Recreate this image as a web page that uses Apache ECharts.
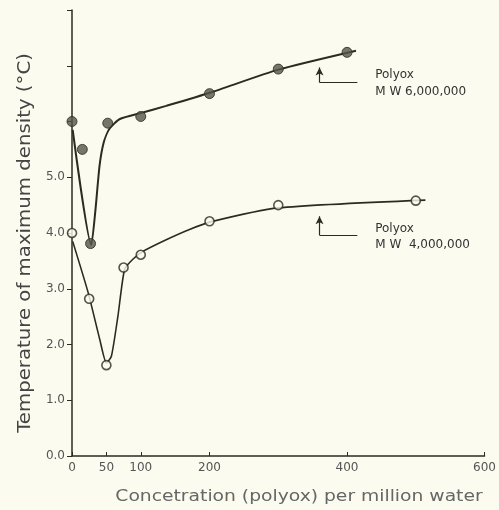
<!DOCTYPE html>
<html><head><meta charset="utf-8">
<script src="https://cdn.jsdelivr.net/npm/echarts@6/dist/echarts.min.js"></script>
<style>html,body{margin:0;padding:0;background:#fbfbef;}#c{width:499px;height:510px;}</style>
</head><body><div id="c"></div>
<script>
// Measured points
const mw6Points = [[0,6.0],[15,5.5],[27,3.81],[52,5.97],[100,6.09],[200,6.5],[300,6.94],[400,7.24]];
const mw4Points = [[0,4.0],[25,2.82],[50,1.63],[75,3.38],[100,3.61],[200,4.21],[300,4.5],[500,4.58]];
// Fitted curves
const mw6Curve = [[1,5.85],[28,3.79],[34,4.4],[40,5.2],[46,5.62],[54,5.86],[69,6.04],[103,6.16],[137,6.28],[201.6,6.52],[300,6.93],[413,7.27]];
const mw4Curve = [[1,3.85],[23.5,2.93],[40.4,2.09],[50,1.67],[57.3,1.79],[66.8,2.51],[76.5,3.35],[88.5,3.53],[103,3.67],[137,3.88],[170,4.06],[201.6,4.2],[300,4.45],[514,4.59]];
const xTicks = [0,50,100,200,400,600];
const yLabels = [0,1,2,3,4,5];
const yTicks = [0,1,2,3,4,5,6,7,8];
const ink = '#2b2b22';
const chart = echarts.init(document.getElementById('c'));
chart.setOption({
  backgroundColor:'#fbfbef',
  animation:false,
  grid:{left:72,right:11,top:10,bottom:54},
  xAxis:{type:'value',min:0,max:600,
    axisLine:{lineStyle:{color:ink,width:1.5}},
    axisTick:{inside:true,length:4,customValues:xTicks,lineStyle:{color:ink}},
    axisLabel:{customValues:xTicks,color:'#555',fontSize:12,fontFamily:'DejaVu Sans',margin:6},
    splitLine:{show:false}},
  yAxis:{type:'value',min:0,max:8,
    axisLine:{show:true,lineStyle:{color:ink,width:1.5}},
    axisTick:{show:true,length:5,customValues:yTicks,lineStyle:{color:ink}},
    axisLabel:{customValues:yLabels,color:'#555',fontSize:12,fontFamily:'DejaVu Sans',margin:7,formatter:v=>v.toFixed(1)},
    splitLine:{show:false}},
  series:[
    {type:'line',data:mw6Curve,smooth:0.2,symbol:'none',lineStyle:{color:ink,width:2},z:2},
    {type:'line',data:mw4Curve,smooth:0.2,symbol:'none',lineStyle:{color:ink,width:1.6},z:2},
    {type:'scatter',data:mw6Points,symbolSize:10,itemStyle:{color:'#55554b',borderColor:'#2b2b22',borderWidth:1},z:3},
    {type:'scatter',data:mw4Points,symbolSize:9,itemStyle:{color:'#fbfbef',borderColor:'#2b2b22',borderWidth:1.6},z:3},
    {type:'line',data:[],markLine:{silent:true,animation:false,label:{show:false},
      lineStyle:{color:ink,width:1.2,type:'solid'},symbolSize:[6,8],
      data:[
        [{coord:[360,6.70],symbol:'none'},{coord:[360,6.97],symbol:'arrow'}],
        [{coord:[360,6.70],symbol:'none'},{coord:[415,6.70],symbol:'none'}],
        [{coord:[360,3.96],symbol:'none'},{coord:[360,4.30],symbol:'arrow'}],
        [{coord:[360,3.96],symbol:'none'},{coord:[415,3.96],symbol:'none'}]
      ]}}
  ]
});
function place(){
  const p = (x,y)=>chart.convertToPixel({gridIndex:0},[x,y]);
  const a1=p(441,6.83), a2=p(441,6.53), b1=p(441,4.08), b2=p(441,3.78);
  const st = {fill:'#333',font:'12px "DejaVu Sans"',textVerticalAlign:'middle'};
  chart.setOption({graphic:[
    {type:'text',x:a1[0],y:a1[1],style:Object.assign({text:'Polyox'},st)},
    {type:'text',x:a2[0],y:a2[1],style:Object.assign({text:'M W 6,000,000'},st)},
    {type:'text',x:b1[0],y:b1[1],style:Object.assign({text:'Polyox'},st)},
    {type:'text',x:b2[0],y:b2[1],style:Object.assign({text:'M W  4,000,000'},st)},
    {type:'text',x:26,y:243,rotation:Math.PI/2,scaleX:1.16,style:{text:'Temperature of maximum density (°C)',fill:'#444',font:'17px "DejaVu Sans"',textAlign:'center',textVerticalAlign:'middle'}},
    {type:'text',x:299,y:497,scaleX:1.17,style:{text:'Concetration (polyox) per million water',fill:'#666',font:'16px "DejaVu Sans"',textAlign:'center',textVerticalAlign:'middle'}}
  ]});
}
place();
</script></body></html>
